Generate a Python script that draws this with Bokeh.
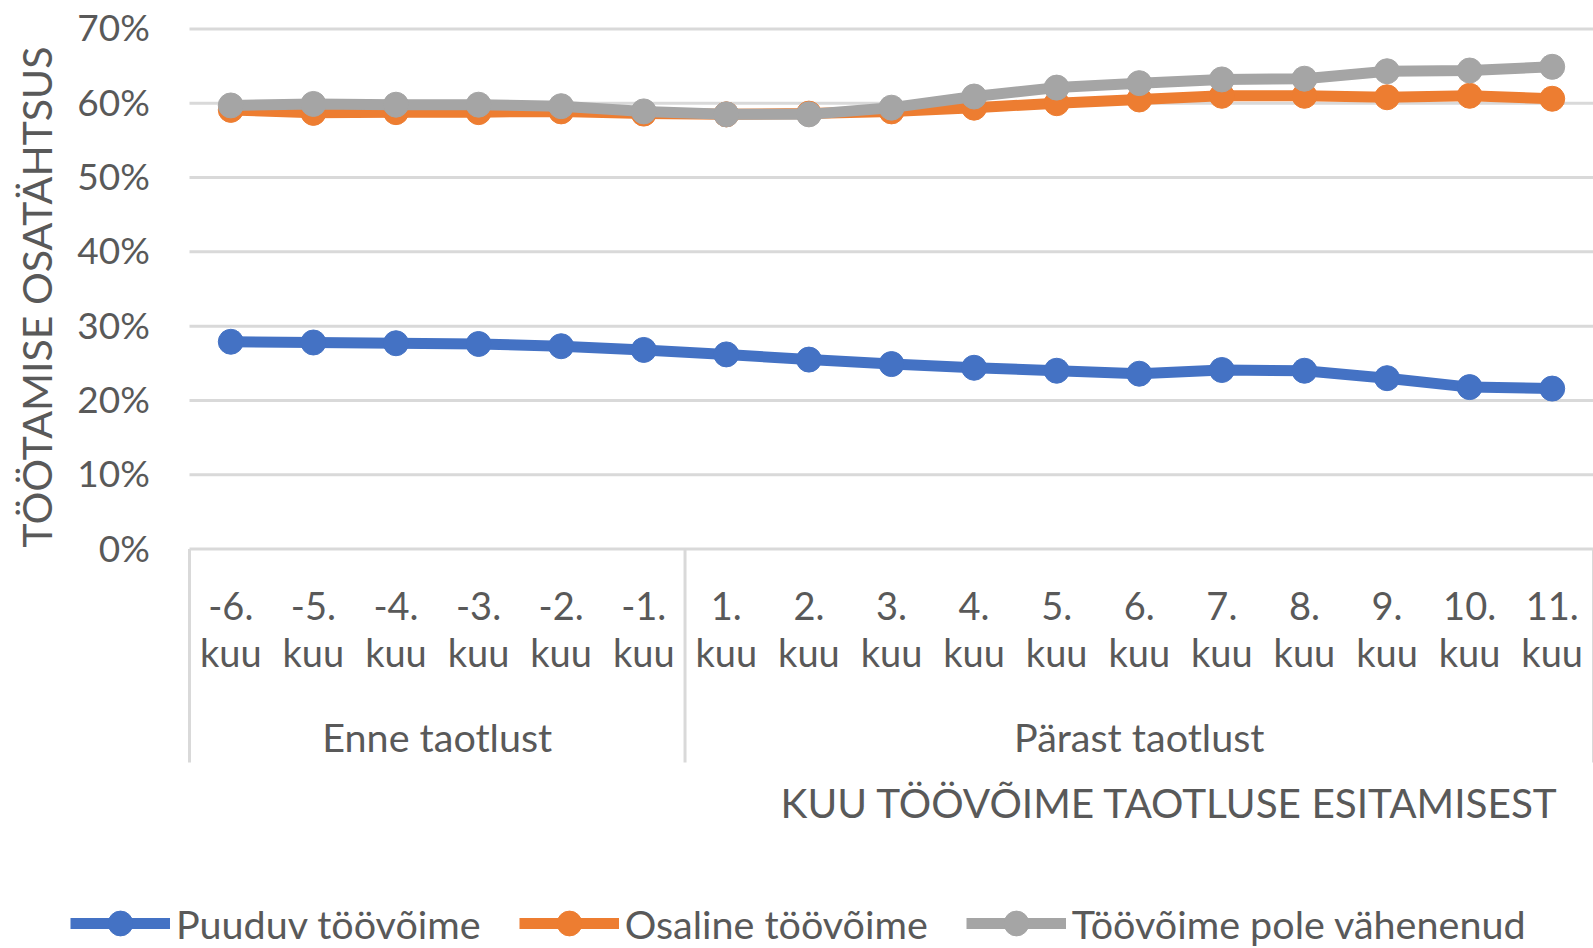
import math
from bokeh.plotting import figure
from bokeh.models import Range1d, Legend, LegendItem
from bokeh.core.properties import value
from bokeh.embed import file_html
from bokeh.resources import INLINE

# ---------------- data ----------------
months = ["-6.", "-5.", "-4.", "-3.", "-2.", "-1.", "1.", "2.", "3.", "4.",
          "5.", "6.", "7.", "8.", "9.", "10.", "11."]
month_word = "kuu"
groups = ["Enne taotlust", "Pärast taotlust"]
group_sizes = [6, 11]
series_names = ["Puuduv töövõime", "Osaline töövõime", "Töövõime pole vähenenud"]
puuduv = [27.9, 27.8, 27.7, 27.6, 27.3, 26.8, 26.2, 25.5, 24.9, 24.4, 24.0, 23.6, 24.1, 24.0, 23.0, 21.8, 21.6]
osaline = [59.1, 58.7, 58.8, 58.8, 58.9, 58.6, 58.5, 58.6, 58.9, 59.4, 60.0, 60.5, 61.0, 61.0, 60.8, 61.0, 60.6]
pole = [59.7, 59.9, 59.8, 59.8, 59.6, 58.9, 58.5, 58.5, 59.4, 60.9, 62.1, 62.7, 63.2, 63.3, 64.3, 64.4, 64.9]
y_ticks = [0, 10, 20, 30, 40, 50, 60, 70]
y_tick_labels = ["0%", "10%", "20%", "30%", "40%", "50%", "60%", "70%"]
y_title = "TÖÖTAMISE OSATÄHTSUS"
x_title = "KUU TÖÖVÕIME TAOTLUSE ESITAMISEST"

# ---------------- style / layout ----------------
FONT = "Lato"
TXT = "#595959"
GRID = "#D9D9D9"
COLORS = ["#4472C4", "#ED7D31", "#A5A5A5"]

W, H = 1593, 948
PLOT_LEFT_PX = 189.0
n = len(months)
PXX = (W - PLOT_LEFT_PX) / n                 # pixels per category
PXY = (548.6 - 28.4) / 70.0                  # pixels per percent
Y0_PX = 548.6                                 # pixel row of 0 %
x_start = 0.5 - PLOT_LEFT_PX / PXX
x_end = x_start + W / PXX
y_top = 70 + 28.4 / PXY
y_bot = y_top - H / PXY


def xpos(px):
    return x_start + px / PXX


def ypos(py):
    return (Y0_PX - py) / PXY


xs = list(range(1, n + 1))

p = figure(width=W, height=H, x_range=Range1d(x_start, x_end), y_range=Range1d(y_bot, y_top),
           output_backend="svg", toolbar_location=None,
           min_border_left=0, min_border_right=0, min_border_top=0, min_border_bottom=0)
p.background_fill_color = "white"
p.border_fill_color = "white"
p.outline_line_color = None
p.xaxis.visible = False
p.yaxis.visible = False
p.xgrid.visible = False
p.ygrid.visible = False

# horizontal gridlines at the y ticks
p.segment(x0=[0.5] * len(y_ticks), y0=y_ticks, x1=[n + 0.5] * len(y_ticks), y1=y_ticks,
          line_color=GRID, line_width=3)

# y tick labels
tick_lift = 2.0 / PXY
p.text(x=[xpos(149.3)] * len(y_ticks), y=[t + tick_lift for t in y_ticks], text=y_tick_labels,
       text_align="right", text_baseline="alphabetic", text_font=value(FONT),
       text_font_size="37px", text_color=TXT)

# y title (rotated)
p.text(x=[xpos(36.0)], y=[ypos(296.5)], text=[y_title], angle=math.pi / 2, text_align="center",
       text_baseline="alphabetic", text_font=value(FONT), text_font_size="41px", text_color=TXT)

# group separators
bounds = [0.5]
for s in group_sizes:
    bounds.append(bounds[-1] + s)
p.segment(x0=bounds, y0=[0] * len(bounds), x1=bounds, y1=[ypos(762)] * len(bounds),
          line_color=GRID, line_width=3)

# category labels (two lines)
p.text(x=xs, y=[ypos(605)] * n, text=months, text_align="center", text_baseline="alphabetic",
       text_font=value(FONT), text_font_size="38px", text_color=TXT)
p.text(x=xs, y=[ypos(651)] * n, text=[month_word] * n, text_align="center", text_baseline="alphabetic",
       text_font=value(FONT), text_font_size="38px", text_color=TXT)

# group labels
gx = [(bounds[i] + bounds[i + 1]) / 2 for i in range(len(groups))]
p.text(x=gx, y=[ypos(736)] * len(groups), text=groups, text_align="center", text_baseline="alphabetic",
       text_font=value(FONT), text_font_size="39.5px", text_color=TXT)

# x axis title
p.text(x=[xpos(1169.4)], y=[ypos(802)], text=[x_title], text_align="center", text_baseline="alphabetic",
       text_font=value(FONT), text_font_size="40.5px", text_color=TXT)

# series
items = []
for name, vals, col in zip(series_names, [puuduv, osaline, pole], COLORS):
    r1 = p.line(xs, vals, line_color=col, line_width=11)
    r2 = p.scatter(xs, vals, size=25, fill_color=col, line_color=col)
    items.append(LegendItem(label=name, renderers=[r1, r2]))

legend = Legend(items=items, orientation="horizontal", location=(70, -6),
                padding=0, margin=0, spacing=38, glyph_width=100, glyph_height=62,
                label_height=62, label_standoff=6,
                label_text_font=FONT, label_text_font_size="39.5px", label_text_color=TXT,
                border_line_color=None, background_fill_alpha=0)
p.add_layout(legend, "center")

open("out.html", "w").write(file_html(p, INLINE))
